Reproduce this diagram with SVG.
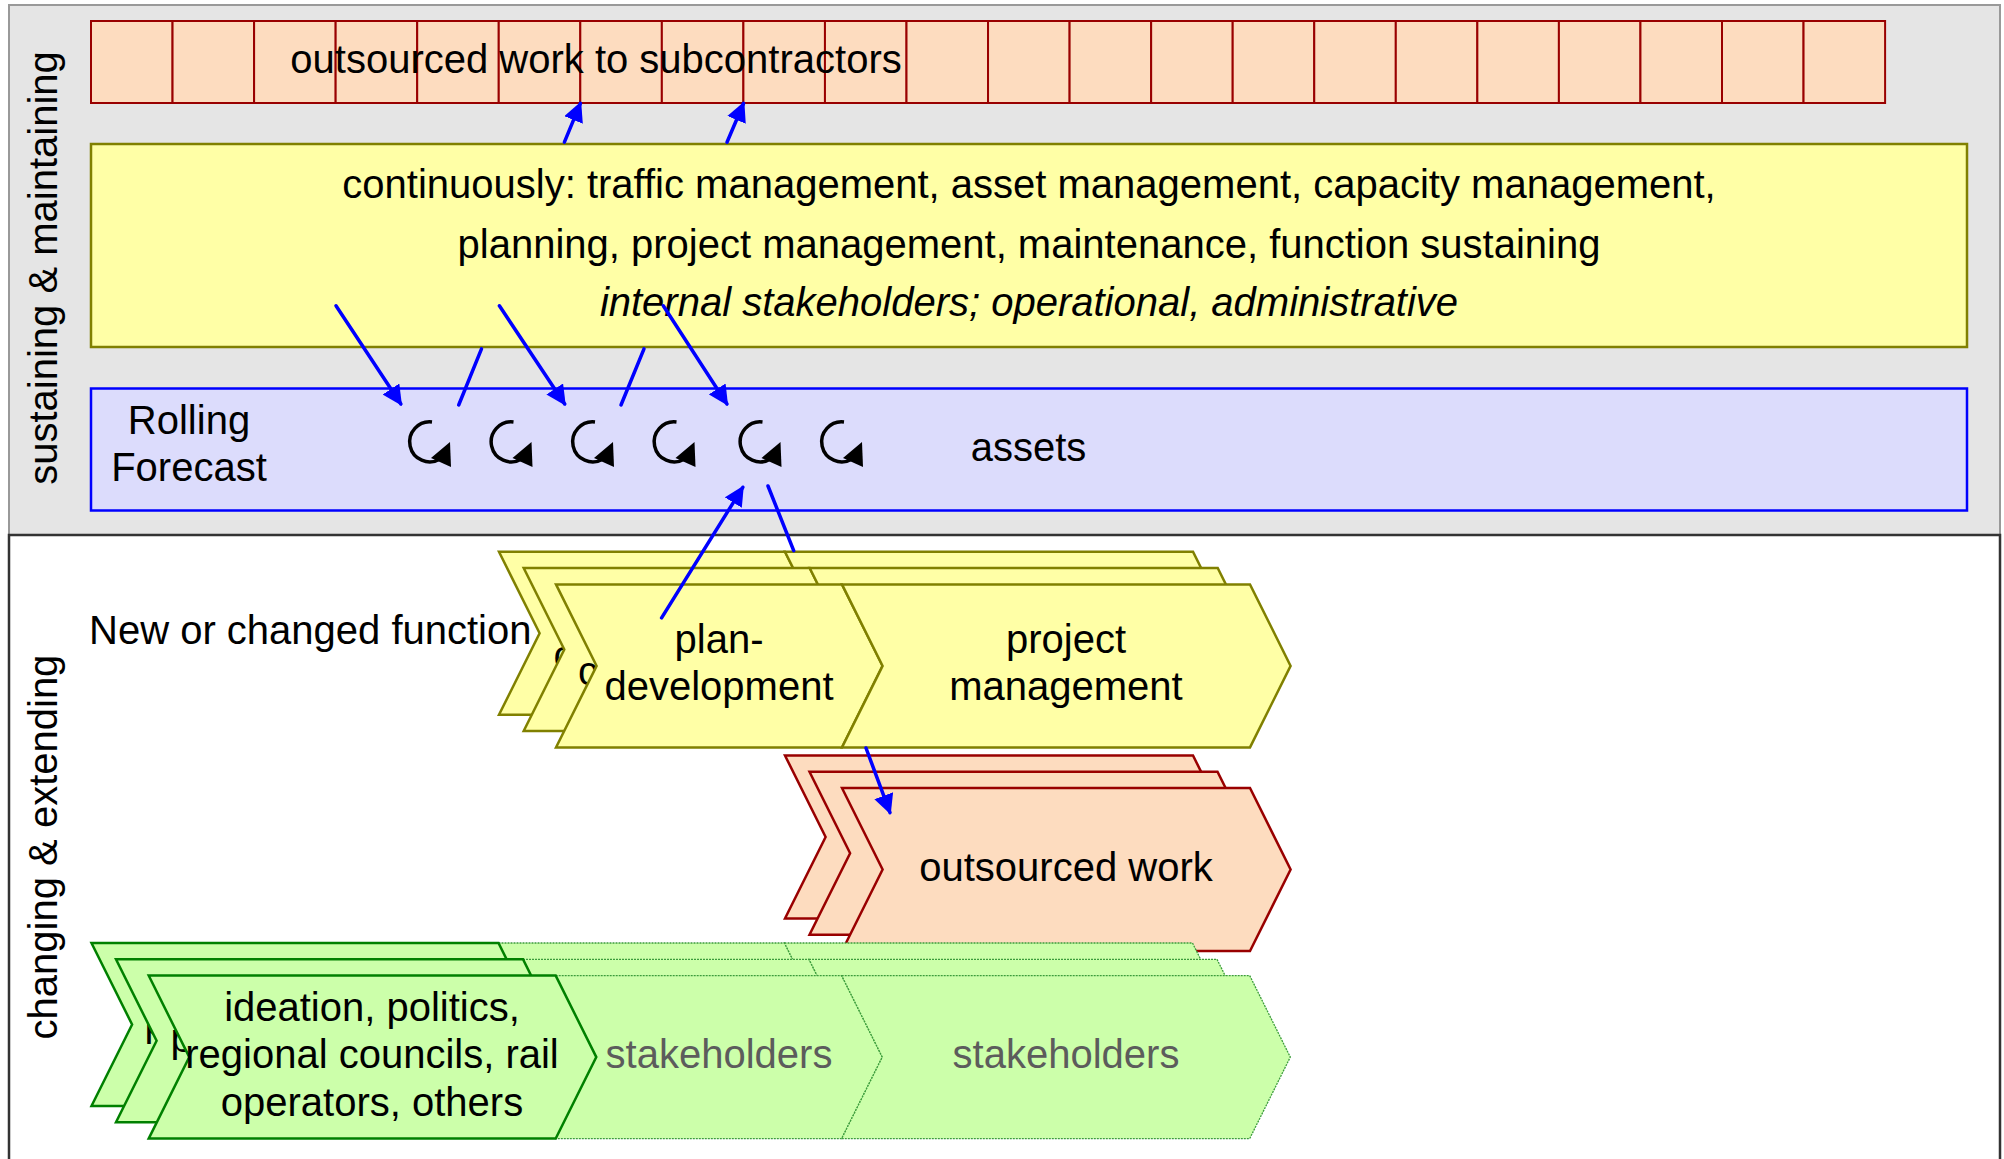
<svg xmlns="http://www.w3.org/2000/svg" xmlns:xlink="http://www.w3.org/1999/xlink" width="2004" height="1159" viewBox="0 0 2004 1159">
<defs>
<style>
.t{font-family:"Liberation Sans",Arial,sans-serif;font-size:40px;fill:#000}
.m{text-anchor:middle}
.it{font-style:italic}
.gr{fill:#5c5c5c}
.cell{fill:#fddcbf;stroke:#990000;stroke-width:2}
.yel{fill:#ffffa6;stroke:#808000;stroke-width:2.5}
.blu{fill:#dcdcfc;stroke:#0000ff;stroke-width:2.5}
.org{fill:#fddcbf;stroke:#990000;stroke-width:2.5}
.grn{fill:#ccffaa;stroke:#008000;stroke-width:2.5}
.grl{fill:#ccffaa;stroke:#3c9c3c;stroke-width:1.3;stroke-dasharray:2 1}
.con{stroke:#0000ff;stroke-width:3.5;fill:none;stroke-linecap:round}
.arr{marker-end:url(#ah)}
</style>
<marker id="ah" viewBox="0 0 20 20" refX="18" refY="10" markerWidth="20" markerHeight="20" markerUnits="userSpaceOnUse" orient="auto">
<path d="M0,0 L20,10 L0,20 Z" fill="#0000ff"/>
</marker>
<g id="cyc">
<path d="M2.5,-20 A20,20 0 1 0 10.5,17" fill="none" stroke="#000" stroke-width="3.5"/>
<path d="M20.5,0 L21.5,25 L1.5,16 Z" fill="#000"/>
</g>
</defs>

<g id="sections">
<rect x="9" y="5" width="1991" height="530" fill="#e5e5e5" stroke="#999" stroke-width="2"/>
<rect x="9" y="535" width="1991" height="640" fill="#ffffff" stroke="#333" stroke-width="2.5"/>
<text class="t m" transform="translate(57,268) rotate(-90)">sustaining &amp; maintaining</text>
<text class="t m" transform="translate(57,847) rotate(-90)">changing &amp; extending</text>
</g>

<g id="subcontractors">
<rect class="cell" x="91" y="21" width="81.55" height="82"/>
<rect class="cell" x="172.55" y="21" width="81.55" height="82"/>
<rect class="cell" x="254.1" y="21" width="81.55" height="82"/>
<rect class="cell" x="335.65" y="21" width="81.55" height="82"/>
<rect class="cell" x="417.2" y="21" width="81.55" height="82"/>
<rect class="cell" x="498.75" y="21" width="81.55" height="82"/>
<rect class="cell" x="580.3" y="21" width="81.55" height="82"/>
<rect class="cell" x="661.85" y="21" width="81.55" height="82"/>
<rect class="cell" x="743.4" y="21" width="81.55" height="82"/>
<rect class="cell" x="824.95" y="21" width="81.55" height="82"/>
<rect class="cell" x="906.5" y="21" width="81.55" height="82"/>
<rect class="cell" x="988.05" y="21" width="81.55" height="82"/>
<rect class="cell" x="1069.6" y="21" width="81.55" height="82"/>
<rect class="cell" x="1151.15" y="21" width="81.55" height="82"/>
<rect class="cell" x="1232.7" y="21" width="81.55" height="82"/>
<rect class="cell" x="1314.25" y="21" width="81.55" height="82"/>
<rect class="cell" x="1395.8" y="21" width="81.55" height="82"/>
<rect class="cell" x="1477.35" y="21" width="81.55" height="82"/>
<rect class="cell" x="1558.9" y="21" width="81.55" height="82"/>
<rect class="cell" x="1640.45" y="21" width="81.55" height="82"/>
<rect class="cell" x="1722" y="21" width="81.55" height="82"/>
<rect class="cell" x="1803.55" y="21" width="81.55" height="82"/>
<text class="t m" x="596" y="73">outsourced work to subcontractors</text>
</g>

<g id="continuous">
<rect class="yel" x="91" y="144" width="1876" height="203"/>
<text class="t m" x="1029" y="198">continuously: traffic management, asset management, capacity management,</text>
<text class="t m" x="1029" y="257.5">planning, project management, maintenance, function sustaining</text>
<text class="t m it" x="1029" y="316">internal stakeholders; operational, administrative</text>
</g>

<g id="rolling-forecast">
<rect class="blu" x="91" y="388.5" width="1876" height="122"/>
<text class="t m" x="189" y="434">Rolling</text>
<text class="t m" x="189" y="480.5">Forecast</text>
<use xlink:href="#cyc" x="429.5" y="442"/>
<use xlink:href="#cyc" x="511" y="442"/>
<use xlink:href="#cyc" x="592.5" y="442"/>
<use xlink:href="#cyc" x="674" y="442"/>
<use xlink:href="#cyc" x="760" y="442"/>
<use xlink:href="#cyc" x="841.5" y="442"/>
<text class="t m" x="1028.5" y="461">assets</text>
</g>

<g id="project-stack">
<g transform="translate(499,551.8)">
<path class="yel" d="M0,0H286L326.6,81.5L286,163H0L40.6,81.5Z"/>
<path class="yel" d="M286,0H694L734.6,81.5L694,163H286L326.6,81.5Z"/>
<text class="t" x="54.5" y="117">c</text>
</g>
<g transform="translate(523.7,568)">
<path class="yel" d="M0,0H286L326.6,81.5L286,163H0L40.6,81.5Z"/>
<path class="yel" d="M286,0H694L734.6,81.5L694,163H286L326.6,81.5Z"/>
<text class="t" x="54.3" y="117">c</text>
</g>
<g transform="translate(556,584.4)">
<path class="yel" d="M0,0H286L326.6,81.5L286,163H0L40.6,81.5Z"/>
<path class="yel" d="M286,0H694L734.6,81.5L694,163H286L326.6,81.5Z"/>
</g>
<text class="t m" x="719" y="652.5">plan-</text>
<text class="t m" x="719" y="699.5">development</text>
<text class="t m" x="1066" y="652.5">project</text>
<text class="t m" x="1066" y="699.5">management</text>
</g>

<g id="outsourced-stack">
<path class="org" transform="translate(785,755.5)" d="M0,0H408L448.6,81.5L408,163H0L40.6,81.5Z"/>
<path class="org" transform="translate(809.5,771.8)" d="M0,0H408L448.6,81.5L408,163H0L40.6,81.5Z"/>
<path class="org" transform="translate(842,788)" d="M0,0H408L448.6,81.5L408,163H0L40.6,81.5Z"/>
<text class="t m" x="1066" y="880.5">outsourced work</text>
</g>

<g id="stakeholder-stack">
<g transform="translate(91.5,943)">
<path class="grl" d="M407,0H693L733.6,81.5L693,163H407L447.6,81.5Z"/>
<path class="grl" d="M693,0H1101L1141.6,81.5L1101,163H693L733.6,81.5Z"/>
<path class="grn" d="M0,0H407L447.6,81.5L407,163H0L40.6,81.5Z"/>
<text class="t" x="53" y="92.7">p</text>
</g>
<g transform="translate(116,959.3)">
<path class="grl" d="M407,0H693L733.6,81.5L693,163H407L447.6,81.5Z"/>
<path class="grl" d="M693,0H1101L1141.6,81.5L1101,163H693L733.6,81.5Z"/>
<path class="grn" d="M0,0H407L447.6,81.5L407,163H0L40.6,81.5Z"/>
<text class="t" x="54.5" y="92.7">p</text>
</g>
<g transform="translate(148.7,975.6)">
<path class="grl" d="M407,0H693L733.6,81.5L693,163H407L447.6,81.5Z"/>
<path class="grl" d="M693,0H1101L1141.6,81.5L1101,163H693L733.6,81.5Z"/>
<path class="grn" d="M0,0H407L447.6,81.5L407,163H0L40.6,81.5Z"/>
</g>
<text class="t m" x="372" y="1020.5">ideation, politics,</text>
<text class="t m" x="372" y="1068">regional councils, rail</text>
<text class="t m" x="372" y="1116">operators, others</text>
<text class="t m gr" x="719" y="1068">stakeholders</text>
<text class="t m gr" x="1066" y="1068">stakeholders</text>
</g>

<g id="new-function">
<text class="t" x="89" y="644">New or changed function</text>
</g>

<g id="connectors">
<path class="con arr" d="M564.4,142.2 L580.4,103.3"/>
<path class="con arr" d="M727,142.2 L743.6,103.3"/>
<path class="con arr" d="M336,305.8 L400.9,404"/>
<path class="con" d="M481.5,348.8 L458.7,405"/>
<path class="con arr" d="M499.4,305.8 L564.7,404"/>
<path class="con" d="M644,348.8 L621,405"/>
<path class="con arr" d="M663.3,305.8 L727,404"/>
<path class="con arr" d="M661.6,617.8 L742.8,487.3"/>
<path class="con" d="M768,486 L793.7,550.7"/>
<path class="con arr" d="M866,748 L890,812.6"/>
</g>
</svg>
